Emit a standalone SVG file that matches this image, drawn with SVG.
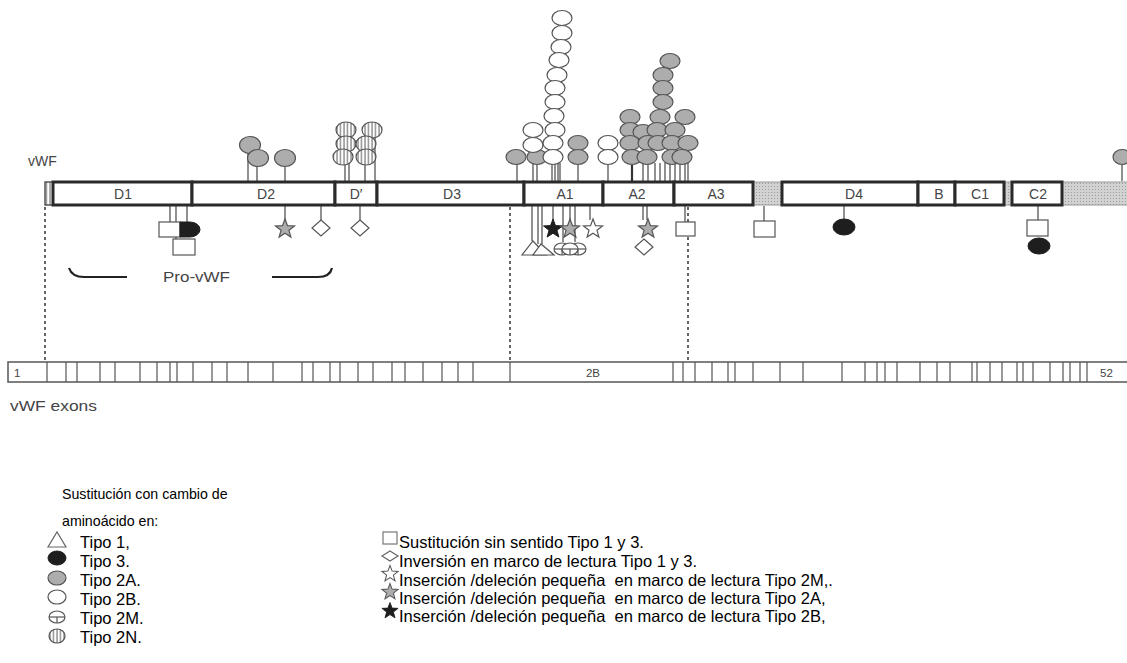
<svg xmlns="http://www.w3.org/2000/svg" width="1127" height="663" viewBox="0 0 1127 663">
<style>
.lbl{font-family:"Liberation Sans",Arial,sans-serif;font-size:14px;fill:#444;text-anchor:middle}
.sm{font-family:"Liberation Sans",Arial,sans-serif;fill:#444}
.lg{font-family:"Liberation Sans",Arial,sans-serif;font-size:16.5px;fill:#000;white-space:pre}
.hd{font-family:"Liberation Sans",Arial,sans-serif;font-size:14.2px;fill:#000}
.dom{fill:#fff;stroke:#2a2a2a;stroke-width:3}
.grey{stroke:#9a9a9a;stroke-width:1}
.stem line{stroke:#555;stroke-width:1.3}
.dash{stroke:#333;stroke-width:1.5;stroke-dasharray:3 3;fill:none}
.a{fill:#adadad;stroke:#555;stroke-width:1.2}
.b{fill:#fff;stroke:#555;stroke-width:1.2}
.t3{fill:#1e1e1e;stroke:#1e1e1e;stroke-width:1}
.ex line{stroke:#555;stroke-width:1.2}
</style>
<defs>
<pattern id="stripes" width="3.5" height="10" patternUnits="userSpaceOnUse"><rect width="3.5" height="10" fill="#fff"/><line x1="1" y1="0" x2="1" y2="10" stroke="#777" stroke-width="1.2"/></pattern>
<pattern id="hatch" width="3" height="3" patternUnits="userSpaceOnUse"><rect width="3" height="3" fill="#d2d2d2"/><rect width="1" height="1" fill="#9c9c9c"/></pattern>
<polygon id="star" points="0,-10 2.47,-3.4 9.51,-3.09 3.99,1.3 5.88,8.09 0,4.2 -5.88,8.09 -3.99,1.3 -9.51,-3.09 -2.47,-3.4"/>
<polygon id="diamond" points="0,-8 9,0 0,8 -9,0"/>
<g id="m2M"><ellipse rx="8" ry="6" fill="#fff" stroke="#555" stroke-width="1.2"/><line x1="-8" y1="0" x2="8" y2="0" stroke="#555" stroke-width="1.2"/><line x1="0" y1="0" x2="0" y2="6" stroke="#555" stroke-width="1.2"/></g>
</defs>

<text class="sm" x="28" y="166" style="font-size:14px">vWF</text>

<g id="guides">
<line class="dash" x1="45" y1="207" x2="45" y2="362"/>
<line class="dash" x1="510" y1="207" x2="510" y2="362"/>
<line class="dash" x1="688" y1="207" x2="688" y2="362"/>
</g>

<g id="connectors" class="stem">
<line x1="248" y1="181" x2="248" y2="150"/>
<line x1="257" y1="181" x2="257" y2="164"/>
<line x1="285" y1="181" x2="285" y2="164"/>
<line x1="345" y1="181" x2="345" y2="130"/>
<line x1="349" y1="181" x2="349" y2="144"/>
<line x1="365" y1="181" x2="365" y2="144"/>
<line x1="375" y1="181" x2="375" y2="130"/>
<line x1="517" y1="181" x2="517" y2="163"/>
<line x1="533" y1="181" x2="533" y2="150"/>
<line x1="537" y1="181" x2="537" y2="163"/>
<line x1="552" y1="181" x2="552" y2="163"/>
<line x1="555" y1="181" x2="555" y2="163"/>
<line x1="558" y1="181" x2="558" y2="163"/>
<line x1="560" y1="181" x2="560" y2="163"/>
<line x1="578" y1="181" x2="578" y2="163"/>
<line x1="608" y1="181" x2="608" y2="163"/>
<line x1="632" y1="181" x2="632" y2="163" style="stroke-width:2.2;stroke:#333"/>
<line x1="643" y1="181" x2="643" y2="163"/>
<line x1="648" y1="181" x2="648" y2="163"/>
<line x1="655" y1="181" x2="655" y2="163"/>
<line x1="660" y1="181" x2="660" y2="163"/>
<line x1="665" y1="181" x2="665" y2="163"/>
<line x1="670" y1="181" x2="670" y2="163"/>
<line x1="675" y1="181" x2="675" y2="163"/>
<line x1="680" y1="181" x2="680" y2="163"/>
<line x1="685" y1="181" x2="685" y2="163"/>
<line x1="688" y1="181" x2="688" y2="163"/>
<line x1="1122" y1="181" x2="1122" y2="164"/>
<line x1="170" y1="206" x2="170" y2="222"/>
<line x1="176" y1="206" x2="176" y2="239"/>
<line x1="187" y1="206" x2="187" y2="222"/>
<line x1="285" y1="206" x2="285" y2="220"/>
<line x1="321" y1="206" x2="321" y2="220"/>
<line x1="360" y1="206" x2="360" y2="220"/>
<line x1="532" y1="206" x2="532" y2="241"/>
<line x1="538" y1="206" x2="538" y2="244"/>
<line x1="542" y1="206" x2="542" y2="244"/>
<line x1="553" y1="206" x2="553" y2="220"/>
<line x1="563" y1="206" x2="563" y2="242"/>
<line x1="570" y1="206" x2="570" y2="220"/>
<line x1="575" y1="206" x2="575" y2="242"/>
<line x1="590" y1="206" x2="590" y2="220"/>
<line x1="643" y1="206" x2="643" y2="220"/>
<line x1="647" y1="206" x2="647" y2="220"/>
<line x1="685" y1="206" x2="685" y2="222"/>
<line x1="764" y1="206" x2="764" y2="221"/>
<line x1="844" y1="206" x2="844" y2="220"/>
<line x1="1038" y1="206" x2="1038" y2="220"/>
</g>

<g id="bar">
<rect x="45" y="182" width="8" height="23" fill="url(#stripes)" stroke="#555" stroke-width="1.5"/>
<rect class="grey" x="753" y="182" width="29" height="23" fill="url(#hatch)"/>
<rect class="grey" x="1004" y="182" width="8" height="23" fill="url(#hatch)"/>
<rect class="grey" x="1062" y="182" width="70" height="23" fill="url(#hatch)"/>
<g id="D1"><rect class="dom" x="53" y="182" width="139" height="23"/><text class="lbl" x="123" y="199">D1</text></g>
<g id="D2"><rect class="dom" x="192" y="182" width="143" height="23"/><text class="lbl" x="266" y="199">D2</text></g>
<g id="Dp"><rect class="dom" x="335" y="182" width="42" height="23"/><text class="lbl" x="356" y="199">D′</text></g>
<g id="D3"><rect class="dom" x="377" y="182" width="147" height="23"/><text class="lbl" x="452" y="199">D3</text></g>
<g id="A1"><rect class="dom" x="524" y="182" width="79" height="23"/><text class="lbl" x="565" y="199">A1</text></g>
<g id="A2"><rect class="dom" x="603" y="182" width="71" height="23"/><text class="lbl" x="637" y="199">A2</text></g>
<g id="A3"><rect class="dom" x="674" y="182" width="79" height="23"/><text class="lbl" x="716" y="199">A3</text></g>
<g id="D4"><rect class="dom" x="782" y="182" width="136" height="23"/><text class="lbl" x="854" y="199">D4</text></g>
<g id="B"><rect class="dom" x="918" y="182" width="37" height="23"/><text class="lbl" x="939" y="199">B</text></g>
<g id="C1"><rect class="dom" x="955" y="182" width="49" height="23"/><text class="lbl" x="980" y="199">C1</text></g>
<g id="C2"><rect class="dom" x="1012" y="182" width="50" height="23"/><text class="lbl" x="1038" y="199">C2</text></g>
</g>

<g id="above">
<ellipse class="a" cx="250" cy="145" rx="10.5" ry="8.5"/>
<ellipse class="a" cx="258" cy="158" rx="10.5" ry="8.5"/>
<ellipse class="a" cx="285" cy="158" rx="10.5" ry="8.5"/>
<g fill="url(#stripes)" stroke="#555" stroke-width="1.2">
<ellipse cx="346" cy="130" rx="10" ry="8"/>
<ellipse cx="372" cy="130" rx="10" ry="8"/>
<ellipse cx="346" cy="144" rx="10" ry="8"/>
<ellipse cx="366" cy="144" rx="10" ry="8"/>
<ellipse cx="343" cy="157" rx="10" ry="8"/>
<ellipse cx="366" cy="157" rx="10" ry="8"/>
</g>
<ellipse class="a" cx="516" cy="157" rx="10" ry="7.5"/>
<ellipse class="a" cx="537" cy="157" rx="10" ry="7.5"/>
<ellipse class="b" cx="533" cy="130" rx="10" ry="7.5"/>
<ellipse class="b" cx="533" cy="145" rx="10" ry="7.5"/>
<ellipse class="b" cx="562" cy="18" rx="10" ry="7.5"/>
<ellipse class="b" cx="562" cy="33" rx="10" ry="7.5"/>
<ellipse class="b" cx="561" cy="47" rx="10" ry="7.5"/>
<ellipse class="b" cx="559" cy="60" rx="10" ry="7.5"/>
<ellipse class="b" cx="557" cy="75" rx="10" ry="7.5"/>
<ellipse class="b" cx="555" cy="88" rx="10" ry="7.5"/>
<ellipse class="b" cx="555" cy="102" rx="10" ry="7.5"/>
<ellipse class="b" cx="554" cy="116" rx="10" ry="7.5"/>
<ellipse class="b" cx="555" cy="130" rx="10" ry="7.5"/>
<ellipse class="b" cx="553" cy="143" rx="10" ry="7.5"/>
<ellipse class="b" cx="553" cy="157" rx="10" ry="7.5"/>
<ellipse class="a" cx="578" cy="143" rx="10" ry="7.5"/>
<ellipse class="a" cx="578" cy="157" rx="10" ry="7.5"/>
<ellipse class="b" cx="608" cy="143" rx="10" ry="7.5"/>
<ellipse class="b" cx="608" cy="157" rx="10" ry="7.5"/>
<ellipse class="a" cx="670" cy="61" rx="10" ry="7.5"/>
<ellipse class="a" cx="663" cy="75" rx="10" ry="7.5"/>
<ellipse class="a" cx="663" cy="88" rx="10" ry="7.5"/>
<ellipse class="a" cx="663" cy="102" rx="10" ry="7.5"/>
<ellipse class="a" cx="630" cy="117" rx="10" ry="7.5"/>
<ellipse class="a" cx="660" cy="117" rx="10" ry="7.5"/>
<ellipse class="a" cx="685" cy="117" rx="10" ry="7.5"/>
<ellipse class="a" cx="630" cy="130" rx="10" ry="7.5"/>
<ellipse class="a" cx="643" cy="132" rx="10" ry="7.5"/>
<ellipse class="a" cx="657" cy="130" rx="10" ry="7.5"/>
<ellipse class="a" cx="675" cy="130" rx="10" ry="7.5"/>
<ellipse class="a" cx="630" cy="143" rx="10" ry="7.5"/>
<ellipse class="a" cx="648" cy="143" rx="10" ry="7.5"/>
<ellipse class="a" cx="658" cy="143" rx="10" ry="7.5"/>
<ellipse class="a" cx="672" cy="143" rx="10" ry="7.5"/>
<ellipse class="a" cx="688" cy="143" rx="10" ry="7.5"/>
<ellipse class="a" cx="632" cy="157" rx="10" ry="7.5"/>
<ellipse class="a" cx="647" cy="157" rx="10" ry="7.5"/>
<ellipse class="a" cx="672" cy="157" rx="10" ry="7.5"/>
<ellipse class="a" cx="682" cy="157" rx="10" ry="7.5"/>
<ellipse class="a" cx="1122" cy="157" rx="9" ry="7.5"/>
</g>

<g id="below">
<rect class="b" x="159" y="222" width="21" height="15"/>
<path class="t3" d="M180,222 H190 A10,7.5 0 0 1 190,237 H180 Z"/>
<rect class="b" x="173" y="239" width="22" height="16"/>
<use href="#star" x="285" y="229" class="a"/>
<use href="#diamond" x="321" y="228" class="b"/>
<use href="#diamond" x="360" y="228" class="b"/>
<polygon class="b" points="522,255 546,255 533,241"/>
<polygon class="b" points="533,255 554,255 541,244"/>
<use href="#m2M" x="562" y="249"/>
<use href="#m2M" x="578" y="249"/>
<use href="#m2M" x="570" y="249"/>
<use href="#star" x="553" y="229" class="t3"/>
<use href="#star" x="570" y="229" class="a"/>
<use href="#star" x="593" y="229" class="b"/>
<use href="#star" x="648" y="229" class="a"/>
<use href="#diamond" x="644" y="247" class="b"/>
<rect class="b" x="676" y="222" width="19" height="14"/>
<rect class="b" x="754" y="221" width="21" height="16"/>
<ellipse class="t3" cx="844" cy="227" rx="11" ry="8"/>
<rect class="b" x="1027" y="220" width="21" height="16"/>
<ellipse class="t3" cx="1039" cy="246" rx="11" ry="8"/>
</g>

<g id="provwf">
<path d="M69,268 Q72,277 84,277 H127" fill="none" stroke="#222" stroke-width="2.2"/>
<path d="M272,277 H318 Q330,277 332,268" fill="none" stroke="#222" stroke-width="2.2"/>
<text class="sm" x="163" y="282" style="font-size:15px" textLength="67" lengthAdjust="spacingAndGlyphs">Pro-vWF</text>
</g>

<g id="exons">
<rect x="8" y="362" width="1125" height="20" fill="#fff" stroke="#555" stroke-width="1.5"/>
<g class="ex">
<line x1="47" y1="362" x2="47" y2="382"/><line x1="66" y1="362" x2="66" y2="382"/><line x1="77" y1="362" x2="77" y2="382"/><line x1="100" y1="362" x2="100" y2="382"/><line x1="115" y1="362" x2="115" y2="382"/><line x1="140" y1="362" x2="140" y2="382"/><line x1="157" y1="362" x2="157" y2="382"/><line x1="170" y1="362" x2="170" y2="382"/><line x1="177" y1="362" x2="177" y2="382"/><line x1="193" y1="362" x2="193" y2="382"/><line x1="212" y1="362" x2="212" y2="382"/><line x1="227" y1="362" x2="227" y2="382"/><line x1="248" y1="362" x2="248" y2="382"/><line x1="273" y1="362" x2="273" y2="382"/><line x1="302" y1="362" x2="302" y2="382"/><line x1="313" y1="362" x2="313" y2="382"/><line x1="330" y1="362" x2="330" y2="382"/><line x1="340" y1="362" x2="340" y2="382"/><line x1="358" y1="362" x2="358" y2="382"/><line x1="373" y1="362" x2="373" y2="382"/><line x1="392" y1="362" x2="392" y2="382"/><line x1="405" y1="362" x2="405" y2="382"/><line x1="423" y1="362" x2="423" y2="382"/><line x1="442" y1="362" x2="442" y2="382"/><line x1="458" y1="362" x2="458" y2="382"/><line x1="473" y1="362" x2="473" y2="382"/><line x1="510" y1="362" x2="510" y2="382"/>
<line x1="673" y1="362" x2="673" y2="382"/><line x1="683" y1="362" x2="683" y2="382"/><line x1="695" y1="362" x2="695" y2="382"/><line x1="712" y1="362" x2="712" y2="382"/><line x1="728" y1="362" x2="728" y2="382"/><line x1="735" y1="362" x2="735" y2="382"/><line x1="753" y1="362" x2="753" y2="382"/><line x1="780" y1="362" x2="780" y2="382"/><line x1="803" y1="362" x2="803" y2="382"/><line x1="842" y1="362" x2="842" y2="382"/><line x1="865" y1="362" x2="865" y2="382"/><line x1="877" y1="362" x2="877" y2="382"/><line x1="885" y1="362" x2="885" y2="382"/><line x1="897" y1="362" x2="897" y2="382"/><line x1="920" y1="362" x2="920" y2="382"/><line x1="937" y1="362" x2="937" y2="382"/><line x1="950" y1="362" x2="950" y2="382"/><line x1="972" y1="362" x2="972" y2="382"/><line x1="977" y1="362" x2="977" y2="382"/><line x1="990" y1="362" x2="990" y2="382"/><line x1="1002" y1="362" x2="1002" y2="382"/><line x1="1017" y1="362" x2="1017" y2="382"/><line x1="1023" y1="362" x2="1023" y2="382"/><line x1="1033" y1="362" x2="1033" y2="382"/><line x1="1050" y1="362" x2="1050" y2="382"/><line x1="1063" y1="362" x2="1063" y2="382"/><line x1="1070" y1="362" x2="1070" y2="382"/><line x1="1080" y1="362" x2="1080" y2="382"/><line x1="1087" y1="362" x2="1087" y2="382"/>
</g>
<text class="sm" x="14" y="377" style="font-size:11.5px">1</text>
<text class="sm" x="593" y="377" style="font-size:11.5px" text-anchor="middle">2B</text>
<text class="sm" x="1100" y="377" style="font-size:11.5px">52</text>
<text class="sm" x="10" y="411" style="font-size:14px" textLength="87" lengthAdjust="spacingAndGlyphs">vWF exons</text>
</g>

<g id="legend">
<text class="hd" x="62" y="499">Sustitución con cambio de</text>
<text class="hd" x="62" y="526">aminoácido en:</text>
<polygon points="48,547 66,547 57,532" fill="#fff" stroke="#666" stroke-width="1.2"/>
<ellipse cx="57" cy="558" rx="9" ry="7" class="t3"/>
<ellipse cx="57" cy="578" rx="9" ry="7" class="a"/>
<ellipse cx="57" cy="597" rx="9" ry="7" class="b"/>
<use href="#m2M" x="57" y="617"/>
<ellipse cx="57" cy="636" rx="8" ry="7" fill="url(#stripes)" stroke="#555" stroke-width="1.2"/>
<text class="lg" x="80" y="548">Tipo 1,</text>
<text class="lg" x="80" y="567">Tipo 3.</text>
<text class="lg" x="80" y="586">Tipo 2A.</text>
<text class="lg" x="80" y="605">Tipo 2B.</text>
<text class="lg" x="80" y="624">Tipo 2M.</text>
<text class="lg" x="80" y="643">Tipo 2N.</text>
<rect x="383" y="532" width="14" height="12" fill="#fff" stroke="#777" stroke-width="1.2"/>
<polygon points="390,551 398,556 390,561 382,556" fill="#fff" stroke="#666" stroke-width="1.2"/>
<g transform="translate(390,574) scale(0.85)"><use href="#star" class="b"/></g>
<g transform="translate(390,592) scale(0.85)"><use href="#star" class="a"/></g>
<g transform="translate(390,611) scale(0.85)"><use href="#star" class="t3"/></g>
<text class="lg" x="399" y="548">Sustitución sin sentido Tipo 1 y 3.</text>
<text class="lg" x="399" y="567">Inversión en marco de lectura Tipo 1 y 3.</text>
<text class="lg" x="399" y="586">Inserción /deleción pequeña  en marco de lectura Tipo 2M,.</text>
<text class="lg" x="399" y="604">Inserción /deleción pequeña  en marco de lectura Tipo 2A,</text>
<text class="lg" x="399" y="622">Inserción /deleción pequeña  en marco de lectura Tipo 2B,</text>
</g>
</svg>
